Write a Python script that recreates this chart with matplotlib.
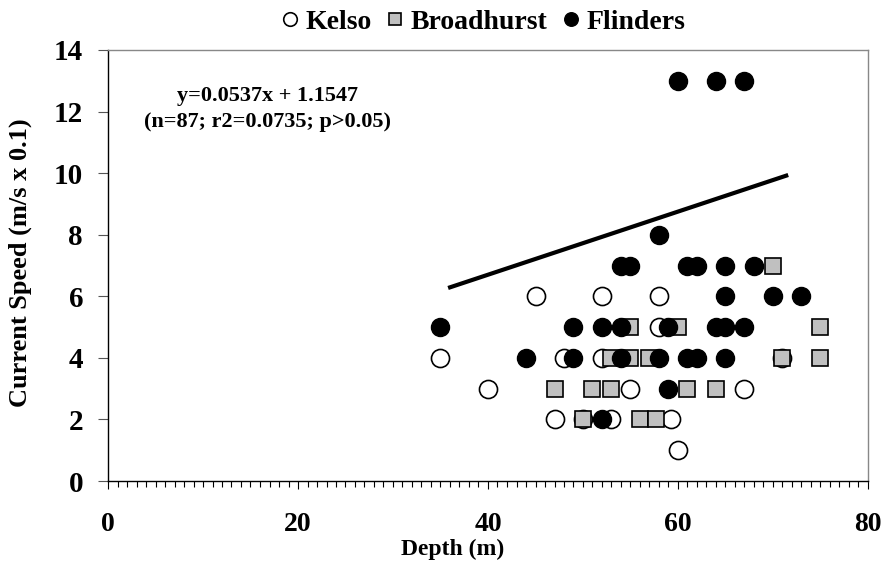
import numpy as np
from matplotlib import pyplot as plt
from matplotlib.ticker import MultipleLocator

# depth (m), current speed (m/s x 0.1)
kelso_depth = [35, 40, 45, 47, 48, 50, 52, 52, 53, 55, 58, 58, 59.3, 60, 67, 71]
kelso_speed = [4, 3, 6, 2, 4, 2, 6, 4, 2, 3, 6, 5, 2, 1, 3, 4]

broad_depth = [47, 50, 51, 53, 53, 55, 55, 56, 57, 57.7, 60, 61, 64, 70, 71, 75, 75]
broad_speed = [3, 2, 3, 3, 4, 4, 5, 2, 4, 2, 5, 3, 3, 7, 4, 5, 4]

flind_depth = [35, 44, 49, 49, 52, 52, 54, 54, 54, 55, 58, 58, 59, 59, 60, 64, 67,
               61, 62, 65, 68, 65, 70, 73, 64, 65, 67, 61, 62, 65]
flind_speed = [5, 4, 5, 4, 5, 2, 5, 4, 7, 7, 8, 4, 5, 3, 13, 13, 13,
               7, 7, 7, 7, 6, 6, 6, 5, 5, 5, 4, 4, 4]

# trend line as drawn
trend_x = [35.8, 71.6]
trend_y = [6.27, 9.94]

eq_text = "y=0.0537x + 1.1547\n(n=87; r2=0.0735; p>0.05)"

plt.rcParams['font.family'] = ['Liberation Serif', 'DejaVu Serif']
plt.rcParams['font.weight'] = 'bold'

fig = plt.figure(figsize=(8.85, 5.87), dpi=100)
ax = fig.add_axes([108/885, 1-481/587, 760/885, 431/587])

ax.plot(trend_x, trend_y, color='black', lw=3, solid_capstyle='butt', zorder=2)
ax.plot(kelso_depth, kelso_speed, 'o', ms=13, mfc='white', mec='black', mew=1.2,
        label='Kelso', zorder=3)
ax.plot(broad_depth, broad_speed, 's', ms=11, mfc='#c0c0c0', mec='black', mew=1.2,
        label='Broadhurst', zorder=4)
ax.plot(flind_depth, flind_speed, 'o', ms=13, mfc='black', mec='black', mew=1,
        label='Flinders', zorder=5)

ax.set_xlim(0, 80)
ax.set_ylim(0, 14)
ax.xaxis.set_major_locator(MultipleLocator(20))
ax.xaxis.set_minor_locator(MultipleLocator(1))
ax.yaxis.set_major_locator(MultipleLocator(2))

ax.tick_params(axis='y', direction='out', length=7, width=0.8, colors='#555555',
               labelcolor='black', labelsize=21, pad=11)
ax.tick_params(axis='x', which='major', direction='out', length=6, width=0.8,
               labelsize=20, pad=16)
ax.tick_params(axis='x', which='minor', direction='out', length=4, width=0.8)
for lab in ax.get_xticklabels() + ax.get_yticklabels():
    lab.set_fontweight('bold')

ax.spines['left'].set_color('black')
ax.spines['bottom'].set_color('black')
ax.spines['top'].set_color('#888888')
ax.spines['right'].set_color('#888888')
for s in ax.spines.values():
    s.set_linewidth(1)

ax.set_xlabel('Depth (m)', fontsize=17, fontweight='bold')
ax.set_ylabel('Current Speed (m/s x 0.1)', fontsize=19, fontweight='bold')
ax.xaxis.set_label_coords(0.453, -0.133)
ax.yaxis.set_label_coords(-0.1, 0.506)

ax.text(0.2105, 0.863, eq_text, transform=ax.transAxes, ha='center', va='center',
        fontsize=16, fontweight='bold', linespacing=1.45)

fig.legend(loc='center', bbox_to_anchor=(482/885, 1-22/587), ncol=3, frameon=False,
           prop={'size': 20, 'weight': 'bold'}, handletextpad=0.15, columnspacing=0.45,
           markerscale=0.75, borderpad=0, handlelength=0.8)

plt.savefig('out.png', dpi=100)
